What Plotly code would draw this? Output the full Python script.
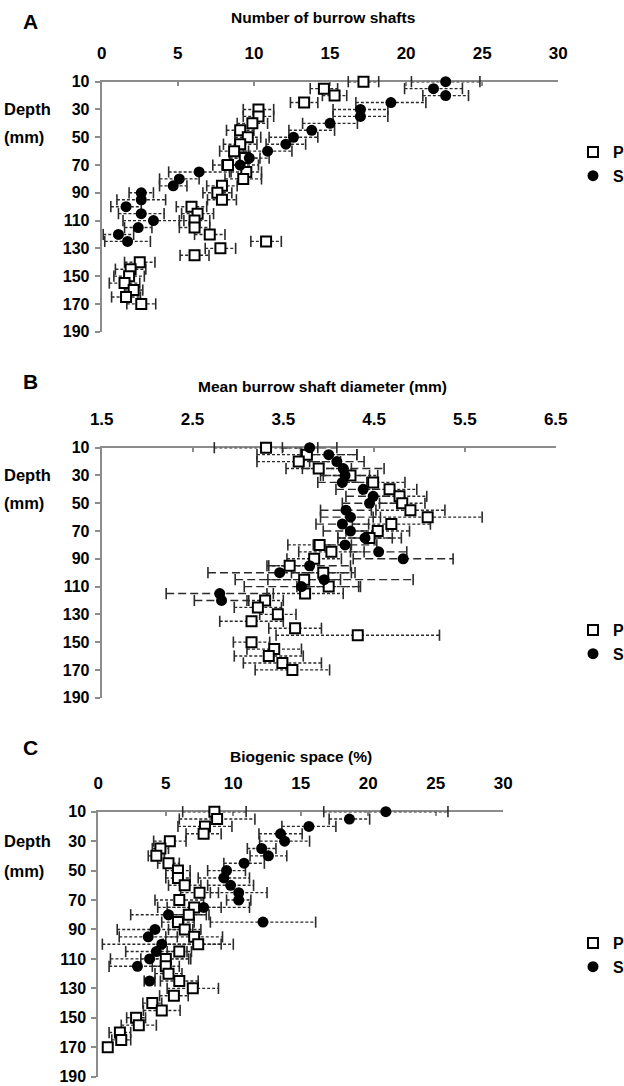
import plotly.graph_objects as go

# ---------------- data ----------------
depth_P = [10, 15, 20, 25, 30, 35, 40, 45, 50, 55, 60, 65, 70, 75, 80, 85, 90,
           95, 100, 105, 110, 115, 120, 125, 130, 135, 140, 145, 150, 155, 160, 165, 170]
depth_S_A = [10, 15, 20, 25, 30, 35, 40, 45, 50, 55, 60, 65, 70, 75, 80, 85, 90,
             95, 100, 105, 110, 115, 120, 125]
depth_S_B = [10, 15, 20, 25, 30, 35, 40, 45, 50, 55, 60, 65, 70, 75, 80, 85, 90,
             95, 100, 105, 110, 115, 120]
depth_S_C = [10, 15, 20, 25, 30, 35, 40, 45, 50, 55, 60, 65, 70, 75, 80, 85, 90,
             95, 100, 105, 110, 115, 125]

# A: Number of burrow shafts
A_P = [17.2, 14.6, 15.3, 13.3, 10.3, 10.3, 9.9, 9.1, 9.6, 9.1, 8.7, 9.4, 8.3, 9.5, 9.3, 7.9, 7.6,
       7.9, 5.9, 6.3, 6.1, 6.1, 7.1, 10.8, 7.8, 6.1, 2.5, 1.9, 1.8, 1.5, 2.1, 1.6, 2.6]
A_P_err = [1.0, 0.9, 0.8, 0.9, 1.0, 1.0, 1.0, 0.9, 0.85, 1.1, 0.95, 1.0, 1.0, 1.0, 1.2, 1.0, 0.95,
           0.95, 1.0, 1.05, 1.0, 1.0, 1.0, 1.0, 1.0, 0.95, 1.0, 1.0, 1.0, 1.0, 0.6, 0.95, 0.95]
A_S = [22.6, 21.8, 22.6, 19.0, 17.0, 17.0, 15.0, 13.8, 12.6, 12.1, 10.9, 9.7, 9.1, 6.4, 5.1, 4.7,
       2.6, 2.6, 1.6, 2.6, 3.4, 2.4, 1.1, 1.7]
A_S_err = [2.25, 1.9, 1.5, 2.3, 1.8, 1.8, 1.8, 1.5, 1.6, 1.3, 1.6, 1.3, 1.2, 2.0, 1.3, 0.9,
           0.8, 1.6, 1.0, 1.5, 2.0, 0.9, 1.0, 1.5]

# B: Mean burrow shaft diameter (mm)
B_P = [3.31, 3.76, 3.67, 3.89, 4.24, 4.49, 4.67, 4.78, 4.81, 4.90, 5.09, 4.69, 4.54, 4.45, 3.90,
       4.03, 3.84, 3.57, 3.94, 3.73, 4.00, 3.74, 3.30, 3.22, 3.44, 3.15, 3.63, 4.32, 3.15, 3.40,
       3.34, 3.49, 3.60]
B_P_err = [0.57, 0.55, 0.46, 0.36, 0.3, 0.35, 0.3, 0.3, 0.25, 0.38, 0.6, 0.43, 0.35, 0.35, 0.35,
           0.36, 0.3, 0.25, 0.35, 0.4, 0.35, 0.42, 0.2, 0.26, 0.2, 0.35, 0.29, 0.9, 0.2, 0.3,
           0.38, 0.43, 0.41]
B_S = [3.79, 4.00, 4.09, 4.16, 4.18, 4.15, 4.38, 4.49, 4.45, 4.19, 4.24, 4.15, 4.24, 4.40, 4.18,
       4.55, 4.82, 3.79, 3.46, 3.95, 3.70, 2.80, 2.82]
B_S_err = [0.3, 0.31, 0.3, 0.45, 0.27, 0.27, 0.3, 0.3, 0.3, 0.28, 0.33, 0.29, 0.3, 0.3, 0.35,
           0.31, 0.55, 0.45, 0.79, 0.98, 0.63, 0.59, 0.3]

# C: Biogenic space (%)
C_P = [8.6, 8.8, 7.9, 7.8, 5.3, 4.6, 4.3, 5.2, 5.9, 5.9, 6.4, 7.5, 6.0, 7.1, 6.7, 5.9, 6.4,
       7.1, 7.4, 6.0, 5.0, 5.0, 5.2, 6.0, 7.0, 5.6, 4.0, 4.7, 2.8, 3.0, 1.6, 1.7, 0.7]
C_P_err = [2.35, 2.8, 2.0, 1.3, 1.2, 0.6, 0.6, 0.8, 0.9, 0.9, 1.2, 1.4, 1.8, 2.0, 1.5, 1.2, 1.2,
           2.1, 2.6, 0.9, 1.85, 1.0, 1.0, 1.4, 1.9, 1.06, 0.7, 1.36, 0.7, 1.3, 0.8, 0.7, 0.3]
C_S = [21.3, 18.6, 15.6, 13.5, 13.8, 12.1, 12.6, 10.8, 9.5, 9.3, 9.8, 10.4, 10.4, 7.8, 5.2,
       12.2, 4.2, 3.7, 4.7, 4.3, 3.8, 2.9, 3.8]
C_S_err = [4.6, 1.5, 2.0, 1.6, 1.85, 1.06, 1.36, 1.5, 1.4, 1.9, 1.7, 2.1, 0.9, 3.4, 2.8,
           3.9, 2.8, 2.15, 4.4, 2.27, 2.9, 2.1, 0.4]

titles = ["Number of burrow shafts", "Mean burrow shaft diameter (mm)", "Biogenic space (%)"]
letters = ["A", "B", "C"]
x_ticks = [[0, 5, 10, 15, 20, 25, 30],
           [1.5, 2.5, 3.5, 4.5, 5.5, 6.5],
           [0, 5, 10, 15, 20, 25, 30]]
y_ticks = [10, 30, 50, 70, 90, 110, 130, 150, 170, 190]

# ---------------- layout geometry (px) ----------------
W, H = 624, 1086
panel_px = [  # left, right, top, bottom
    (101.7, 558.3, 81.7, 331.7),
    (101.7, 555.7, 447.7, 697.7),
    (98.3, 503.3, 811.7, 1076.7),
]
title_x_px = [323, 322, 301]
title_y_px = [18, 386, 756]
letter_y_px = [21, 381, 747]
legend_y_px = [164, 642, 955]

FONT = "Liberation Sans, Arial, sans-serif"
AX_COL = "#8c8c8c"
ERR_COL = "#2a2a2a"
DOT = "3px,2px"
LONG = "8px,4px"

fig = go.Figure()

panels = [
    (depth_P, A_P, A_P_err, depth_S_A, A_S, A_S_err, DOT),
    (depth_P, B_P, B_P_err, depth_S_B, B_S, B_S_err, LONG),
    (depth_P, C_P, C_P_err, depth_S_C, C_S, C_S_err, DOT),
]


def add_err(depth, vals, errs, dash, xa, ya):
    xs, ys = [], []
    for d, v, e in zip(depth, vals, errs):
        xs += [v - e, v + e, None]
        ys += [d, d, None]
    fig.add_trace(go.Scatter(x=xs, y=ys, mode="lines", xaxis=xa, yaxis=ya,
                             line=dict(color=ERR_COL, width=1.4, dash=dash),
                             showlegend=False, hoverinfo="skip", cliponaxis=False))
    cx = [v - e for v, e in zip(vals, errs)] + [v + e for v, e in zip(vals, errs)]
    cy = list(depth) + list(depth)
    fig.add_trace(go.Scatter(x=cx, y=cy, mode="markers", xaxis=xa, yaxis=ya,
                             marker=dict(symbol="line-ns", size=8,
                                         line=dict(color=ERR_COL, width=1.6)),
                             showlegend=False, hoverinfo="skip", cliponaxis=False))


for i, (dP, vP, eP, dS, vS, eS, sdash) in enumerate(panels):
    n = "" if i == 0 else str(i + 1)
    xa, ya = "x" + n, "y" + n
    leg = "legend" + n
    add_err(dP, vP, eP, DOT, xa, ya)
    add_err(dS, vS, eS, sdash, xa, ya)
    fig.add_trace(go.Scatter(x=vP, y=dP, mode="markers", name="P", xaxis=xa, yaxis=ya,
                             legend=leg, cliponaxis=False,
                             marker=dict(symbol="square", size=10, color="white",
                                         line=dict(color="black", width=2))))
    fig.add_trace(go.Scatter(x=vS, y=dS, mode="markers", name="S", xaxis=xa, yaxis=ya,
                             legend=leg, cliponaxis=False,
                             marker=dict(symbol="circle", size=11, color="black",
                                         line=dict(color="black", width=0))))

    l, r, t, b = panel_px[i]
    xdom = [l / W, r / W]
    ydom = [1 - b / H, 1 - t / H]
    xt = x_ticks[i]
    fig.update_layout({
        ("xaxis" + n): dict(
            domain=xdom, range=[xt[0], xt[-1]], anchor=ya, side="top",
            tickvals=xt, ticktext=[("%g" % v) for v in xt], automargin=False,
            ticks="inside", ticklen=4, tickwidth=1.5, tickcolor=AX_COL,
            showline=True, linecolor=AX_COL, linewidth=2, mirror=False,
            showgrid=False, zeroline=False, layer="below traces",
            tickfont=dict(family=FONT, size=17, color="black", weight="bold"),
            ticklabelstandoff=14,
        ),
        ("yaxis" + n): dict(
            domain=ydom, range=[190, 10], anchor=xa, automargin=False,
            tickvals=y_ticks, ticks="outside", ticklen=5, tickwidth=1.5,
            tickcolor=AX_COL, showline=True, linecolor=AX_COL, linewidth=2,
            showgrid=False, zeroline=False, layer="below traces",
            tickfont=dict(family=FONT, size=16, color="black", weight="bold"),
            ticklabelstandoff=2,
        ),
        leg: dict(
            x=573 / W, xanchor="left", y=1 - legend_y_px[i] / H, yanchor="middle",
            bgcolor="rgba(0,0,0,0)", borderwidth=0, itemwidth=30,
            font=dict(family=FONT, size=16, color="black", weight="bold"),
            tracegroupgap=0, itemclick=False,
        ),
    })

    # panel title, letter, depth label
    fig.add_annotation(text=titles[i], xref="paper", yref="paper",
                       x=title_x_px[i] / W, y=1 - title_y_px[i] / H,
                       xanchor="center", yanchor="middle", showarrow=False,
                       font=dict(family=FONT, size=15.5, color="black", weight="bold"))
    fig.add_annotation(text=letters[i], xref="paper", yref="paper",
                       x=30 / W, y=1 - letter_y_px[i] / H,
                       xanchor="center", yanchor="middle", showarrow=False,
                       font=dict(family=FONT, size=21, color="black", weight="bold"))
    fig.add_annotation(text="Depth", xref="paper", yref=ya, x=2 / W, y=30,
                       xanchor="left", yanchor="middle", showarrow=False,
                       font=dict(family=FONT, size=16.5, color="black", weight="bold"))
    fig.add_annotation(text="(mm)", xref="paper", yref=ya, x=2 / W, y=50,
                       xanchor="left", yanchor="middle", showarrow=False,
                       font=dict(family=FONT, size=16.5, color="black", weight="bold"))

fig.update_layout(width=W, height=H, margin=dict(l=0, r=0, t=0, b=0, autoexpand=False),
                  paper_bgcolor="white", plot_bgcolor="white", showlegend=True)

fig.write_html("out.html")
